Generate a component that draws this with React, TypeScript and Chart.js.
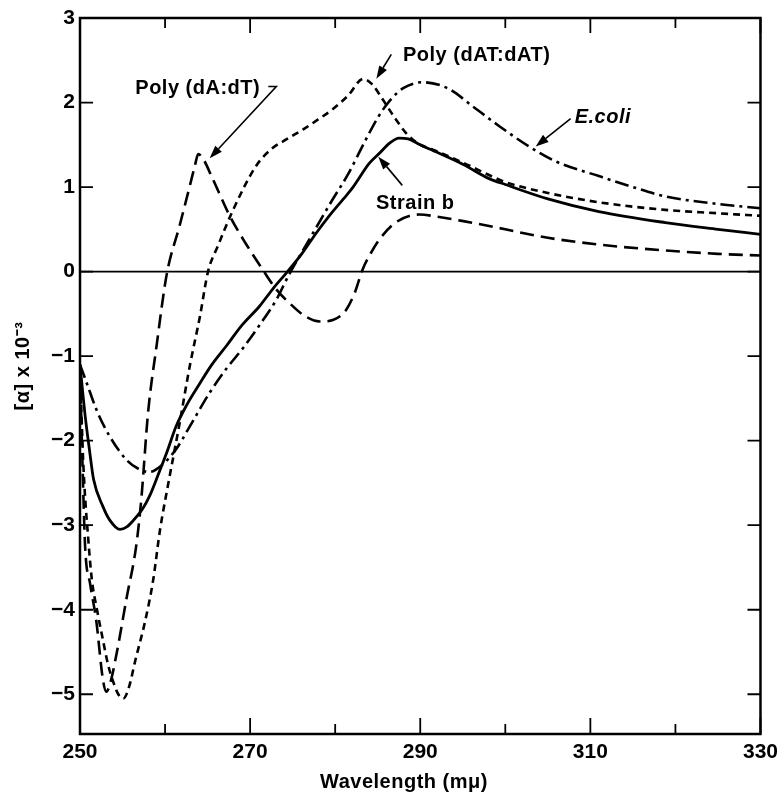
import React, { useEffect, useRef } from "react";
import { Chart, registerables } from "chart.js";

Chart.register(...registerables);

// ---- Data (wavelength in mμ, [α] x 10^-3) ----
const strainX = [250, 250.6, 251.1, 251.6, 252.7, 253.5, 254.7, 255.5, 256.3, 257.4, 258.2, 259.2, 260.2, 261.3, 262.7, 264.1, 265.5, 267.2, 269, 271.1, 272.7, 274.4, 276, 277.8, 279.3, 281.3, 282.1, 284, 285.2, 286.4, 287.5, 288.6, 290, 291.1, 295, 298.1, 300, 305, 311, 318.8, 325, 330];
const strainY = [-1.1, -1.7, -2.1, -2.46, -2.78, -2.94, -3.05, -3.02, -2.94, -2.8, -2.65, -2.4, -2.14, -1.83, -1.55, -1.32, -1.1, -0.88, -0.64, -0.41, -0.2, 0.0, 0.2, 0.46, 0.66, 0.9, 1.0, 1.28, 1.4, 1.52, 1.58, 1.57, 1.5, 1.45, 1.27, 1.1, 1.03, 0.86, 0.71, 0.58, 0.5, 0.44];

const dAdTX = [250, 250.3, 250.6, 251.2, 251.9, 252.7, 253.1, 253.6, 254.3, 255.5, 256.6, 257.2, 258, 259, 260.2, 261.7, 262.9, 263.5, 263.9, 264.5, 265.5, 267.6, 269.5, 271.5, 273, 274.6, 276.5, 278.2, 279.8, 281.3, 282.3, 283.2, 284.2, 285.2, 287.1, 289.9, 292, 294.9, 298.1, 300, 305, 311, 318.8, 325, 330];
const dAdTY = [-1.15, -2.3, -3.25, -3.7, -4.12, -4.83, -4.97, -4.85, -4.52, -3.85, -3.25, -2.7, -1.67, -0.88, -0.03, 0.54, 1.01, 1.25, 1.39, 1.33, 1.12, 0.66, 0.33, 0.02, -0.2, -0.37, -0.53, -0.59, -0.57, -0.45, -0.25, 0.02, 0.22, 0.38, 0.58, 0.675, 0.65, 0.6, 0.54, 0.5, 0.4, 0.32, 0.25, 0.21, 0.19];

const dATX = [250, 250.4, 251, 251.4, 252, 252.7, 253.3, 253.9, 254.5, 255.1, 255.8, 256.5, 257.6, 258.6, 259.4, 260.3, 261.7, 262.9, 264.1, 265.05, 266.2, 268, 270.7, 272.5, 274.2, 276.2, 278, 279.7, 281.5, 283.3, 284.3, 285.5, 287, 288.5, 290, 291, 292, 295, 300, 305, 311, 318.8, 325, 330];
const dATY = [-1.15, -2.3, -3.2, -3.65, -4.0, -4.36, -4.65, -4.85, -5.0, -5.05, -4.9, -4.6, -4.16, -3.65, -3.06, -2.55, -1.8, -1.12, -0.53, 0.0, 0.3, 0.73, 1.25, 1.45, 1.56, 1.68, 1.8, 1.92, 2.08, 2.28, 2.22, 2.05, 1.82, 1.62, 1.5, 1.46, 1.42, 1.29, 1.06, 0.93, 0.82, 0.73, 0.69, 0.66];

const ecoliX = [250, 250.8, 252, 253.5, 255.5, 257, 258.2, 259.5, 261.3, 263.2, 265.2, 267.2, 269.2, 271.2, 273.1, 274.5, 276.5, 279.5, 281.5, 283.6, 285, 286.4, 288, 290.3, 293.4, 296.1, 299.3, 302.8, 306, 311, 315, 318.8, 325, 330];
const ecoliY = [-1.1, -1.32, -1.65, -1.95, -2.23, -2.34, -2.37, -2.3, -2.1, -1.78, -1.44, -1.15, -0.9, -0.62, -0.33, -0.05, 0.3, 0.82, 1.15, 1.56, 1.82, 2.02, 2.17, 2.24, 2.16, 1.96, 1.72, 1.48, 1.3, 1.13, 1.0, 0.89, 0.8, 0.75];

const baselineX = [250, 330];
const baselineY = [0, 0];

const xTickLabels = [250, 270, 290, 310, 330];
const xMinorTicks = [260, 280, 300, 320];
const yTicks = [-5, -4, -3, -2, -1, 0, 1, 2, 3];

const xTitle = "Wavelength (mμ)";
const yTitle = "[α] x 10⁻³";

// annotation labels (data coordinates) and arrows
const labelTexts = ["Poly (dA:dT)", "Poly (dAT:dAT)", "Strain b", "E.coli"];
const labelX = [263.84, 296.63, 289.41, 311.47];
const labelY = [2.17, 2.56, 0.81, 1.82];
const labelItalic = [false, false, false, true];

const arrowTailX = [273.08, 286.6, 287.89, 307.68];
const arrowTailY = [2.19, 2.57, 1.02, 1.81];
const arrowHeadX = [265.25, 284.84, 285.07, 303.57];
const arrowHeadY = [1.34, 2.28, 1.36, 1.48];

const FONT = "'Liberation Sans', Arial, sans-serif";

const pts = (xs: number[], ys: number[]) => xs.map((x, i) => ({ x, y: ys[i] }));

const decorPlugin = {
  id: "decor",
  afterDatasetsDraw(chart: any) {
    const { ctx, chartArea: a, scales } = chart;
    const x = scales.x;
    const y = scales.y;
    ctx.save();
    ctx.strokeStyle = "#000";
    ctx.fillStyle = "#000";
    // frame
    ctx.lineWidth = 2.5;
    ctx.strokeRect(a.left, a.top, a.right - a.left, a.bottom - a.top);
    // inward ticks
    ctx.lineWidth = 1.8;
    ctx.beginPath();
    const xAll = [...xTickLabels, ...xMinorTicks];
    for (const v of xAll) {
      const px = x.getPixelForValue(v);
      const major = xTickLabels.includes(v);
      ctx.moveTo(px, a.bottom);
      ctx.lineTo(px, a.bottom - (major ? 16 : 10));
      ctx.moveTo(px, a.top);
      ctx.lineTo(px, a.top + (major ? 15 : 10));
    }
    for (const v of yTicks) {
      const py = y.getPixelForValue(v);
      ctx.moveTo(a.left, py);
      ctx.lineTo(a.left + 13, py);
      ctx.moveTo(a.right, py);
      ctx.lineTo(a.right - 13, py);
    }
    ctx.stroke();

    // arrows
    ctx.lineWidth = 1.6;
    for (let i = 0; i < arrowTailX.length; i++) {
      const tx = x.getPixelForValue(arrowTailX[i]);
      const ty = y.getPixelForValue(arrowTailY[i]);
      const hx = x.getPixelForValue(arrowHeadX[i]);
      const hy = y.getPixelForValue(arrowHeadY[i]);
      const ang = Math.atan2(hy - ty, hx - tx);
      const L = 13, W = 4.5;
      const bx = hx - L * Math.cos(ang);
      const by = hy - L * Math.sin(ang);
      ctx.beginPath();
      if (i === 0) {
        ctx.moveTo(tx - 8, ty);
        ctx.lineTo(tx, ty);
      } else {
        ctx.moveTo(tx, ty);
      }
      ctx.lineTo(bx, by);
      ctx.stroke();
      ctx.beginPath();
      ctx.moveTo(hx, hy);
      ctx.lineTo(bx + W * Math.sin(ang), by - W * Math.cos(ang));
      ctx.lineTo(bx - W * Math.sin(ang), by + W * Math.cos(ang));
      ctx.closePath();
      ctx.fill();
    }

    // labels
    ctx.textAlign = "center";
    ctx.textBaseline = "middle";
    (ctx as any).letterSpacing = "0.5px";
    for (let i = 0; i < labelTexts.length; i++) {
      ctx.font = (labelItalic[i] ? "italic " : "") + "bold 20px " + FONT;
      ctx.fillText(labelTexts[i], x.getPixelForValue(labelX[i]), y.getPixelForValue(labelY[i]));
    }

    // axis titles
    ctx.font = "bold 20px " + FONT;
    ctx.fillText(xTitle, 404, 782);
    ctx.save();
    ctx.translate(23, 366);
    ctx.rotate(-Math.PI / 2);
    ctx.font = "bold 20px " + FONT;
    ctx.fillText(yTitle, 0, 0);
    ctx.restore();
    (ctx as any).letterSpacing = "0px";
    ctx.restore();
  },
};

export default function App() {
  const canvasRef = useRef<HTMLCanvasElement | null>(null);

  useEffect(() => {
    const canvas = canvasRef.current;
    if (!canvas) return;
    const line = (xs: number[], ys: number[], dash: number[], width: number) => ({
      data: pts(xs, ys),
      borderColor: "#000",
      backgroundColor: "#000",
      borderWidth: width,
      borderDash: dash,
      borderCapStyle: "butt" as const,
      pointRadius: 0,
      fill: false,
      cubicInterpolationMode: "monotone" as const,
    });
    const chart = new Chart(canvas, {
      type: "line",
      data: {
        datasets: [
          line(baselineX, baselineY, [], 1.8),
          line(strainX, strainY, [], 2.8),
          line(dAdTX, dAdTY, [14, 7], 2.6),
          line(dATX, dATY, [7, 5], 2.6),
          line(ecoliX, ecoliY, [14, 5, 3, 5], 2.6),
        ],
      },
      options: {
        responsive: false,
        animation: false,
        events: [],
        layout: { padding: { top: 18, right: 22, left: 0, bottom: 0 } },
        plugins: { legend: { display: false }, tooltip: { enabled: false }, title: { display: false } },
        scales: {
          x: {
            type: "linear",
            min: 250,
            max: 330,
            grid: { display: false, drawTicks: false },
            border: { display: false },
            afterBuildTicks: (s: any) => {
              s.ticks = xTickLabels.map((v) => ({ value: v }));
            },
            afterFit: (s: any) => {
              s.height = 64;
            },
            ticks: {
              color: "#000",
              padding: 6,
              maxRotation: 0,
              autoSkip: false,
              font: { family: FONT, size: 21, weight: "bold" },
              callback: (v: any) => String(v),
            },
          },
          y: {
            type: "linear",
            min: -5.47,
            max: 3,
            grid: { display: false, drawTicks: false },
            border: { display: false },
            afterBuildTicks: (s: any) => {
              s.ticks = yTicks.map((v) => ({ value: v }));
            },
            afterFit: (s: any) => {
              s.width = 80;
            },
            ticks: {
              color: "#000",
              padding: 5,
              autoSkip: false,
              font: { family: FONT, size: 21, weight: "bold" },
              callback: (v: any) => (Number(v) < 0 ? "\u2212" + Math.abs(Number(v)) : String(v)),
            },
          },
        },
      },
      plugins: [decorPlugin],
    } as any);
    return () => chart.destroy();
  }, []);

  return (
    <div style={{ position: "absolute", left: 0, top: 0, width: 784, height: 798, background: "#fff" }}>
      <canvas ref={canvasRef} width={784} height={798} style={{ display: "block" }} />
    </div>
  );
}
